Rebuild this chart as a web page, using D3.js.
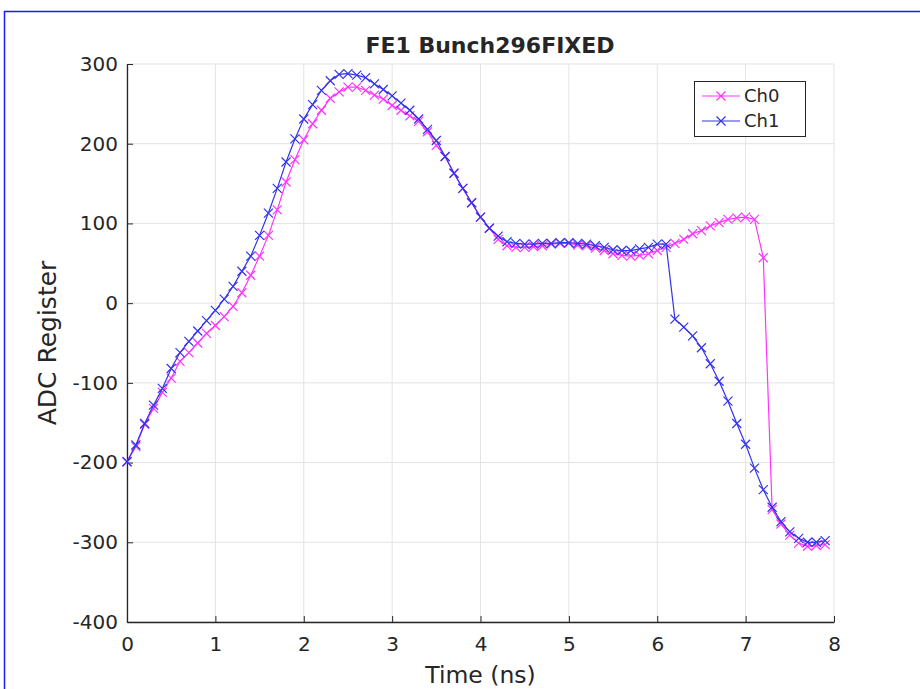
<!DOCTYPE html>
<html><head><meta charset="utf-8">
<script src="https://cdn.jsdelivr.net/npm/d3@7"></script>
<style>
html,body{margin:0;padding:0;background:#fff;}
svg text{font-family:"DejaVu Sans",sans-serif;fill:#262626;}
</style></head>
<body><svg id="c" width="920" height="689"></svg>
<script>
const title = "FE1 Bunch296FIXED";
const xLabel = "Time (ns)";
const yLabel = "ADC Register";
const seriesNames = ["Ch0", "Ch1"];
const seriesColors = ["#ff33ff", "#3333ee"];
const xTicks = [0,1,2,3,4,5,6,7,8];
const yTicks = [-400,-300,-200,-100,0,100,200,300];
const time = d3.range(80).map(i => +(i*0.1).toFixed(1));
const ch0 = [-199,-180,-152,-132,-112,-94,-73,-62,-50,-38,
  -28,-17,-4,13,35,59,85,117,152,180,
  205,225,242,257,265,271,271,267,261,256,
  248,242,235,228,215,198,184,163,144,126,
  108,94,80,72,70,70,71,72,74,75,
  75,73,72,69,66,62,60,59,60,62,
  66,70,75,80,87,91,97,101,105,107,
  108,105,57,-259,-277,-291,-301,-305,-304,-303];
const ch1 = [-199,-178,-151,-128,-107,-82,-62,-48,-35,-22,
  -9,5,21,40,59,85,113,144,177,206,
  231,249,267,279,287,288,286,283,275,268,
  260,251,242,231,218,204,184,163,144,126,
  108,94,84,77,75,74,74,75,75,76,
  76,75,74,72,70,67,66,66,68,70,
  74,74,-20,-30,-41,-56,-76,-98,-123,-151,
  -177,-207,-234,-256,-274,-287,-295,-300,-300,-298];
const series = [ch0, ch1];

const svg = d3.select("#c");
// outer frame
svg.append("rect").attr("x",4.5).attr("y",11.5).attr("width",1000).attr("height",1000)
  .attr("fill","none").attr("stroke","#1a1aff").attr("stroke-width",1.5);

const L=127, R=834, T=64, B=622;
const x = d3.scaleLinear().domain([0,8]).range([L,R]);
const y = d3.scaleLinear().domain([-400,300]).range([B,T]);

const g = svg.append("g");
// grid
g.selectAll(".gx").data(xTicks).join("line")
  .attr("x1",d=>x(d)).attr("x2",d=>x(d)).attr("y1",T).attr("y2",B)
  .attr("stroke","#e3e3e3").attr("stroke-width",1);
g.selectAll(".gy").data(yTicks).join("line")
  .attr("x1",L).attr("x2",R).attr("y1",d=>y(d)).attr("y2",d=>y(d))
  .attr("stroke","#e3e3e3").attr("stroke-width",1);

// axes
const xa = svg.append("g").attr("transform",`translate(0,${B})`)
  .call(d3.axisBottom(x).tickValues(xTicks).tickFormat(d3.format("d")).tickSizeInner(-6).tickSizeOuter(0).tickPadding(12));
const ya = svg.append("g").attr("transform",`translate(${L},0)`)
  .call(d3.axisLeft(y).tickValues(yTicks).tickFormat(d3.format("d")).tickSizeInner(-6).tickSizeOuter(0).tickPadding(9));
[xa,ya].forEach(a=>{
  a.select(".domain").attr("stroke","#262626").attr("stroke-width",1.3);
  a.selectAll(".tick line").attr("stroke","#262626");
  a.selectAll(".tick text").attr("font-size",20).attr("font-family","DejaVu Sans").attr("fill","#262626");
});
xa.selectAll(".tick text").attr("dy","0.85em");
ya.selectAll(".tick text").text(d=>d<0?"-"+Math.abs(d):d);

// lines + markers
const line = d3.line().x((d,i)=>x(time[i])).y(d=>y(d));
const ms = 4.5;
series.forEach((s,k)=>{
  const col = seriesColors[k];
  svg.append("path").datum(s).attr("d",line).attr("fill","none")
    .attr("stroke",col).attr("stroke-width",1.2);
  svg.append("g").selectAll("path").data(s).join("path")
    .attr("d",(d,i)=>{const cx=x(time[i]), cy=y(d);
      return `M${cx-ms},${cy-ms}L${cx+ms},${cy+ms}M${cx-ms},${cy+ms}L${cx+ms},${cy-ms}`;})
    .attr("stroke",col).attr("stroke-width",1.2).attr("fill","none");
});

// title & labels
svg.append("text").attr("x",490).attr("y",53).attr("text-anchor","middle")
  .attr("font-size",22).attr("font-weight","bold").attr("fill","#000").text(title);
svg.append("text").attr("x",(L+R)/2).attr("y",683).attr("text-anchor","middle")
  .attr("font-size",23.5).text(xLabel);
svg.append("text").attr("transform",`translate(56,${(T+B)/2}) rotate(-90)`).attr("text-anchor","middle")
  .attr("font-size",25).text(yLabel);

// legend
const lg = svg.append("g");
lg.append("rect").attr("x",694.5).attr("y",81.5).attr("width",111).attr("height",55)
  .attr("fill","#fff").attr("stroke","#262626").attr("stroke-width",1);
seriesNames.forEach((n,k)=>{
  const yy = 96 + k*25;
  lg.append("line").attr("x1",702).attr("x2",740).attr("y1",yy).attr("y2",yy)
    .attr("stroke",seriesColors[k]).attr("stroke-width",1.2);
  lg.append("path").attr("d",`M${721-ms},${yy-ms}L${721+ms},${yy+ms}M${721-ms},${yy+ms}L${721+ms},${yy-ms}`)
    .attr("stroke",seriesColors[k]).attr("stroke-width",1.2);
  lg.append("text").attr("x",744).attr("y",yy+6).attr("font-size",18).text(n);
});
</script></body></html>
